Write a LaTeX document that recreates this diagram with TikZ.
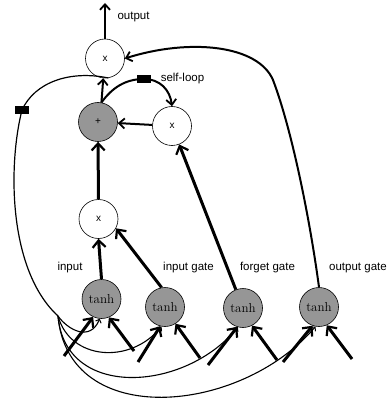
\documentclass[tikz,border=0pt]{standalone}
\usepackage{fontspec}
\setsansfont{Liberation Sans}
\usetikzlibrary{arrows.meta}
\definecolor{unitgray}{RGB}{150,150,150}
\begin{document}
\begin{tikzpicture}[x=1pt,y=-1pt,
  unit/.style={circle,draw,line width=0.6pt,minimum size=39pt,inner sep=0pt},
  wunit/.style={unit,fill=white,font=\sffamily\fontsize{10}{11}\selectfont},
  gunit/.style={unit,fill=unitgray,font=\fontsize{13}{15}\selectfont},
  lbl/.style={font=\sffamily\fontsize{11.5}{13}\selectfont,inner sep=0pt},
  sqbox/.style={rectangle,fill=black,minimum width=14pt,minimum height=8pt,inner sep=0pt},
  thickarr/.style={line width=3pt,-{Straight Barb[length=7pt,width=13pt,line width=2.2pt]}},
  medarr/.style={line width=2pt,-{Straight Barb[length=5.5pt,width=10pt,line width=1.8pt]}},
  thinl/.style={line width=1.2pt},
  thinarr/.style={line width=1.1pt,-{Straight Barb[length=3pt,width=6pt,line width=1pt]}}
]
\useasboundingbox (0,0) rectangle (388,403);

% units
\node[wunit] (outx) at (105,58.5) {x};
\node[gunit,font=\sffamily\fontsize{10}{11}\selectfont] (plus) at (98,122) {+};
\node[wunit] (mx2) at (172,126) {x};
\node[wunit] (mx1) at (98.5,219) {x};
\node[gunit] (t1) at (101.5,299) {tanh};
\node[gunit] (t2) at (165,307) {tanh};
\node[gunit] (t3) at (243,308) {tanh};
\node[gunit] (t4) at (319,307) {tanh};

% labels
\node[lbl] (lout) at (133.5,17) {output};
\node[lbl] (lself) at (182.5,79) {self-loop};
\node[lbl] (lin) at (70,268) {input};
\node[lbl] (lig) at (188.5,268) {input gate};
\node[lbl] (lfg) at (267.5,268) {forget gate};
\node[lbl,anchor=west] (log) at (329,268) {output gate};

% coordinates
\coordinate (outtop) at (105,3);
\coordinate (sq1c) at (22,110);
\coordinate (sq2c) at (144,79);
\coordinate (bendR) at (273,80);
\coordinate (split) at (58,316);
\coordinate (a1) at (64,356);
\coordinate (b1) at (134,351);
\coordinate (a2) at (138,362);
\coordinate (b2) at (200,358);
\coordinate (a3) at (208,365);
\coordinate (b3) at (277,360);
\coordinate (a4) at (283,362);
\coordinate (b4) at (352,359);

% main flow
\draw[medarr] (outx) -- (outtop);
\draw[thickarr] (t1.north) -- (mx1.south);
\draw[thickarr] (t2.100) -- (mx1.-28);
\draw[thickarr] (mx1) -- (plus);
\draw[medarr] (plus.80) -- (outx.-95);
\draw[medarr] (mx2) -- (plus);
\draw[thickarr] (t3) -- (mx2);
\draw[medarr] (plus.80) .. controls (112,88) and (125,79) .. (sq2c)
  .. controls (160,79) and (170,90) .. (mx2.north);
\draw[medarr] (t4.north) .. controls (310,220) and (292,130) .. (bendR)
  .. controls (258,45) and (190,38) .. (outx.east);

% recurrent feedback
\draw[thinl] (outx.-80) .. controls (70,70) and (35,82) .. (sq1c)
  .. controls (8,165) and (8,270) .. (split);
\draw[thinarr] (split) .. controls (68,330) and (90,342) .. (t1.-95);
\draw[thinarr] (split) .. controls (70,360) and (130,365) .. (t2.-100);
\draw[thinarr] (split) .. controls (65,400) and (185,392) .. (t3.-105);
\draw[thinarr] (split) .. controls (68,430) and (240,415) .. (t4.-100);

% inputs
\draw[thickarr] (a1) -- (t1.-115);
\draw[thickarr] (b1) -- (t1.-68);
\draw[thickarr] (a2) -- (t2.-104);
\draw[thickarr] (b2) -- (t2.-58);
\draw[thickarr] (a3) -- (t3.-107);
\draw[thickarr] (b3) -- (t3.-63);
\draw[thickarr] (a4) -- (t4.-109);
\draw[thickarr] (b4) -- (t4.-67);

% delay squares
\node[sqbox] (sq1) at (sq1c) {};
\node[sqbox] (sq2) at (sq2c) {};
\end{tikzpicture}
\end{document}
